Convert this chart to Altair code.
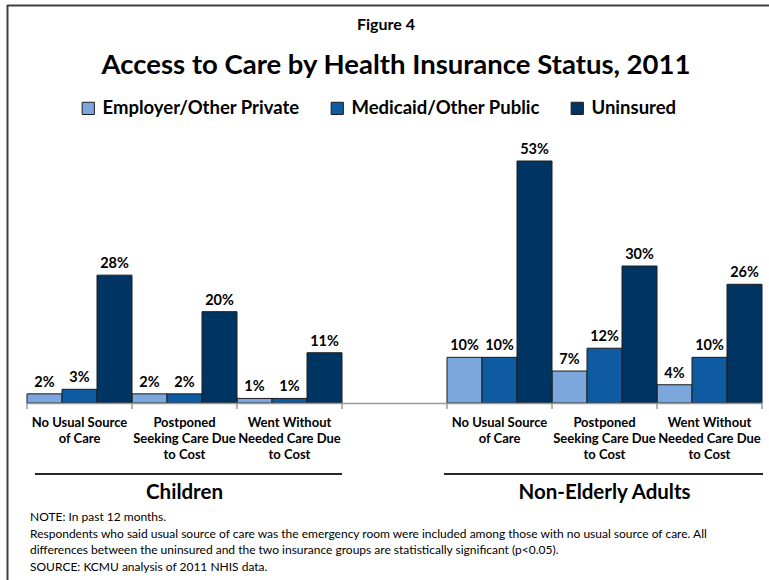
import altair as alt
import pandas as pd

# ---------------- data ----------------
series = ["Employer/Other Private", "Medicaid/Other Public", "Uninsured"]
colors = ["#7BA7DC", "#0E5BA1", "#003462"]

slots = ["C1", "C2", "C3", "GAP", "A1", "A2", "A3"]
category_labels = [
    "No Usual Source\nof Care",
    "Postponed\nSeeking Care Due\nto Cost",
    "Went Without\nNeeded Care Due\nto Cost",
]

children_employer = [2, 2, 1]
children_medicaid = [3, 2, 1]
children_uninsured = [28, 20, 11]
adults_employer = [10, 7, 4]
adults_medicaid = [10, 12, 10]
adults_uninsured = [53, 30, 26]

groups = ["Children", "Non-Elderly Adults"]
group_center_slots = ["C2", "A2"]

notes = [
    "NOTE: In past 12 months.",
    "Respondents who said usual source of care was the emergency room were included among those with no usual source of care. All",
    "differences between the uninsured and the two insurance groups are statistically significant (p<0.05).",
    "SOURCE: KCMU analysis of 2011 NHIS data.",
]

FONT = "Lato"

# ---------------- tables ----------------
rows = []
for slot_list, vals in [
    (slots[0:3], [children_employer, children_medicaid, children_uninsured]),
    (slots[4:7], [adults_employer, adults_medicaid, adults_uninsured]),
]:
    for s_i, s in enumerate(series):
        for c_i, slot in enumerate(slot_list):
            v = vals[s_i][c_i]
            rows.append({"slot": slot, "series": s, "value": v, "label": f"{v}%"})
df = pd.DataFrame(rows)

cat_df = pd.DataFrame({
    "slot": slots[0:3] + slots[4:7],
    "label": category_labels + category_labels,
})
tick_df = pd.DataFrame({"slot": slots})
last_tick_df = pd.DataFrame({"slot": [slots[-1]]})
group_df = pd.DataFrame({"slot": group_center_slots, "label": groups})

xscale = alt.Scale(domain=slots, range=[27, 762], paddingInner=0, paddingOuter=0)
yscale = alt.Scale(domain=[0, 53], range=[403, 161], nice=False, zero=True)

# ---------------- marks ----------------
bars = alt.Chart(df).mark_bar(stroke="#1c1c1c", strokeWidth=1).encode(
    x=alt.X("slot:N", scale=xscale, axis=None, sort=slots),
    xOffset=alt.XOffset("series:N", sort=series, scale=alt.Scale(domain=series)),
    y=alt.Y("value:Q", scale=yscale, axis=None),
    color=alt.Color(
        "series:N",
        scale=alt.Scale(domain=series, range=colors),
        legend=alt.Legend(
            title=None,
            orient="none",
            direction="horizontal",
            legendX=79,
            legendY=99,
            symbolType="square",
            symbolSize=150,
            symbolStrokeColor="#1c1c1c",
            symbolStrokeWidth=1,
            symbolOpacity=1,
            labelFont=FONT,
            labelFontWeight="bold",
            labelFontSize=18.5,
            labelColor="#000000",
            labelOffset=5,
            columnPadding=28,
            padding=0,
            labelLimit=400,
        ),
    ),
)

value_labels = alt.Chart(df).mark_text(
    font=FONT, fontWeight="bold", fontSize=14.5, color="#000000",
    baseline="alphabetic", dy=-7,
).encode(
    x=alt.X("slot:N", scale=xscale, axis=None, sort=slots),
    xOffset=alt.XOffset("series:N", sort=series, scale=alt.Scale(domain=series)),
    y=alt.Y("value:Q", scale=yscale, axis=None),
    text="label:N",
)

axis_line = alt.Chart(pd.DataFrame({"a": [0]})).mark_rule(
    color="#9a9a9a", strokeWidth=1.5
).encode(x=alt.value(27), x2=alt.value(762), y=alt.value(403.5))

ticks = alt.Chart(tick_df).mark_rule(color="#9a9a9a", strokeWidth=1.5).encode(
    x=alt.X("slot:N", scale=xscale, axis=None, sort=slots, bandPosition=0),
    y=alt.value(403),
    y2=alt.value(409),
)
last_tick = alt.Chart(last_tick_df).mark_rule(color="#9a9a9a", strokeWidth=1.5).encode(
    x=alt.X("slot:N", scale=xscale, axis=None, sort=slots, bandPosition=1),
    y=alt.value(403),
    y2=alt.value(409),
)

cat_text = alt.Chart(cat_df).mark_text(
    font=FONT, fontWeight="bold", fontSize=13, color="#000000",
    lineBreak="\n", lineHeight=16, baseline="middle", align="center",
).encode(
    x=alt.X("slot:N", scale=xscale, axis=None, sort=slots),
    y=alt.value(423),
    text="label:N",
)

group_lines = alt.Chart(pd.DataFrame({"x1": [35, 444], "x2": [342, 763]})).mark_rule(
    color="#262626", strokeWidth=2
).encode(x=alt.X("x1:Q", scale=None), x2="x2:Q", y=alt.value(474))

group_text = alt.Chart(group_df).mark_text(
    font=FONT, fontWeight="bold", fontSize=20.5, color="#000000", baseline="middle",
).encode(
    x=alt.X("slot:N", scale=xscale, axis=None, sort=slots),
    y=alt.value(493),
    text="label:N",
)

def txt(s, x, y, size, weight="normal", align="center"):
    return alt.Chart(pd.DataFrame({"t": [s]})).mark_text(
        font=FONT, fontSize=size, fontWeight=weight, color="#000000",
        align=align, baseline="middle",
    ).encode(x=alt.value(x), y=alt.value(y), text="t:N")

fig_label = txt("Figure 4", 386, 25, 16, "bold")
main_title = txt("Access to Care by Health Insurance Status, 2011", 396, 66, 27.5, "bold")

note_layers = [
    txt(n, 30, y, 12, "normal", "left")
    for n, y in zip(notes, [517, 534, 550, 567])
]

border_top = alt.Chart(pd.DataFrame({"a": [0]})).mark_rule(color="#3f3f3f", strokeWidth=2).encode(
    x=alt.value(7), x2=alt.value(769), y=alt.value(5.5)
)
border_left = alt.Chart(pd.DataFrame({"a": [0]})).mark_rule(color="#3f3f3f", strokeWidth=2).encode(
    x=alt.value(7.5), y=alt.value(5), y2=alt.value(580)
)

chart = alt.layer(
    bars, value_labels, axis_line, ticks, last_tick, cat_text, group_lines, group_text,
    fig_label, main_title, *note_layers, border_top, border_left,
).resolve_scale(
    x="shared"
).properties(
    width=769, height=580, padding=0, background="white",
    autosize=alt.AutoSizeParams(type="none"),
).configure_view(stroke=None)

chart.save("out.html", embed_options={"renderer": "svg", "actions": False})
